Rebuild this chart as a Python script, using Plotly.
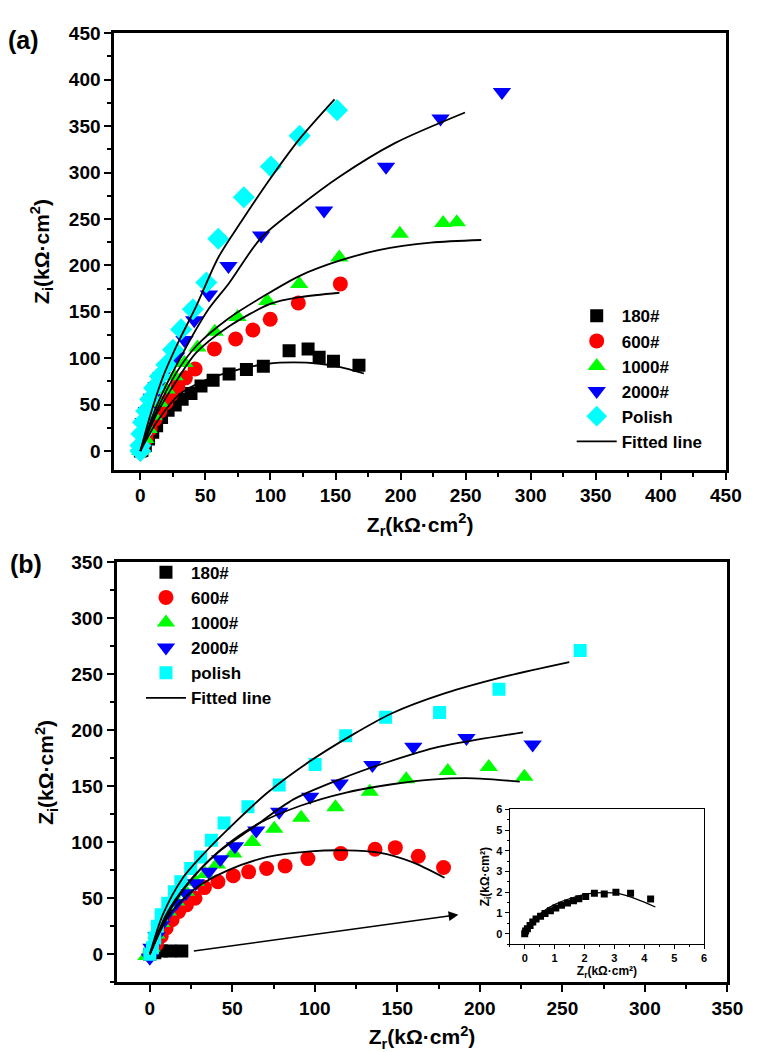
import plotly.graph_objects as go

# ---------------- Panel (a) data ----------------
a180_x = [0, 1.2, 3.8, 6.3, 9.5, 12.5, 16.3, 21.3, 26.8, 32.1, 38.9, 46.6, 55.9, 68.2, 81.5, 94.5, 114.3, 128.9, 137.4, 148.4, 168.0]
a180_y = [0, 0.7, 6, 13, 20.2, 27.3, 36.2, 44, 49.7, 55.8, 62, 70, 76.3, 83, 87.7, 91.3, 108, 110, 100.9, 96.6, 92.3]
a600_x = [0, 2, 4.5, 7.5, 11.3, 15, 19.6, 23.8, 28.8, 34.6, 42.1, 56.9, 73.2, 86.5, 99.8, 121.4, 153.7]
a600_y = [0, 6, 13, 23.8, 34.4, 43, 52, 61, 70, 78.8, 88.4, 110, 120.7, 130.3, 142, 159.4, 180]
a1000_x = [0, 1.3, 3.8, 6.3, 10, 15, 20, 26.3, 33.9, 43.9, 57.2, 74.7, 97.5, 122.1, 152.9, 199.4, 232.7, 243.2]
a1000_y = [0, 2.5, 13, 23.8, 38, 52, 66.4, 80.6, 94.8, 111.5, 128.5, 144.5, 161.6, 180, 208.4, 234, 245.7, 246.4]
a2000_x = [0, 1.2, 2.5, 5, 8.8, 12.5, 16.3, 21.3, 27.6, 33.9, 41.4, 52.7, 67.7, 92.8, 141.2, 188.8, 230.7, 277.9]
a2000_y = [-3, 16.7, 31, 43, 57.5, 70, 80.6, 91.3, 101.9, 119.7, 141, 168.7, 199.2, 232.2, 259.2, 306.1, 358.3, 386.7]
aPol_x = [0, 0, 0.8, 2, 4.5, 7.5, 10.5, 15, 20, 25.1, 31.3, 40.4, 50.7, 59.9, 79.5, 100.3, 122.4, 151.2]
aPol_y = [0, 6, 18.5, 31, 43, 55.8, 68, 80.6, 93, 109, 131, 152.7, 181.5, 228.7, 273.4, 306.5, 339.5, 367.2]

fa180_x = [0, 12.5, 30, 50.2, 75.2, 97.8, 117.9, 137.9, 153, 171.8]
fa180_y = [0, 30.9, 61, 76.3, 87.7, 94, 95.5, 94, 90.6, 83.5]
fa600_x = [0, 12.5, 27.6, 42.6, 67.7, 100.3, 122.9, 153]
fa600_y = [0, 39.8, 75.3, 105.5, 133.9, 158.7, 165.8, 170.5]
fa1000_x = [0, 12.5, 27.6, 42.6, 67.7, 97.8, 122.9, 153, 183, 223.2, 262]
fa1000_y = [0, 43.3, 84.2, 112.6, 142.8, 169.4, 189, 205, 216.3, 224.4, 227.3]
fa2000_x = [0, 12.5, 30, 52.7, 67.7, 92.8, 120.4, 153, 195.6, 249.5]
fa2000_y = [0, 48.6, 98.4, 153.4, 180, 229.7, 261.7, 295.5, 331.7, 364.7]
faPol_x = [0, 7.5, 17.6, 30, 42.6, 59.9, 77.7, 100.3, 122.4, 149.2]
faPol_y = [0, 38, 80.6, 119.7, 155, 208.5, 247.5, 294.4, 336.3, 378.9]

# ---------------- Panel (b) data ----------------
b180_x = [0, 3, 7, 12.3, 19.4]
b180_y = [0, 1.5, 2.9, 2.9, 2.9]
b600_x = [0, 1, 4, 6.9, 9.9, 13.5, 17.5, 22.2, 27.4, 33.1, 41.3, 50.6, 59.9, 70.8, 82, 95.8, 115.7, 136.5, 148.8, 162.7, 178]
b600_y = [0, 2.9, 8.8, 16.2, 23.6, 31, 38.3, 44.2, 50.1, 59.6, 64.9, 70.2, 73.7, 76.7, 79, 85.5, 90, 93.8, 95.3, 87.6, 77.6]
b1000_x = [-2, 1, 4, 6.9, 10.9, 15.9, 21.8, 27.8, 33.7, 40.7, 50.6, 62.1, 75.4, 91.7, 112.5, 133.3, 155.4, 180.6, 205.4, 227]
b1000_y = [-1.5, 5.9, 17.7, 28, 38.3, 47.2, 56, 64.9, 71.7, 80.2, 90, 100.3, 112.1, 122.1, 131.3, 145.1, 156.3, 163.7, 167.3, 158.7]
b2000_x = [0, 1, 4, 6.9, 10.9, 15.9, 21.8, 27.8, 35.7, 42.7, 51.6, 64.5, 78.4, 97.2, 115.1, 134.9, 159.7, 191.9, 232]
b2000_y = [-3, 5.9, 16.2, 26.5, 36.9, 45.7, 54.6, 63.4, 73.7, 85, 96.5, 110.6, 127.4, 140.7, 152.5, 169, 185.3, 193.2, 187.3]
bPol_x = [0, 1.6, 3, 4.6, 6.9, 10.9, 14.9, 18.8, 24.8, 30.8, 37.3, 45, 59.5, 78.4, 100.2, 118.7, 142.9, 175.6, 211.6, 260.8]
bPol_y = [0, 5.9, 14.7, 25, 35.4, 45.7, 56, 64.9, 76.7, 87, 101.8, 117.4, 131.9, 151.3, 169.6, 195.3, 211.8, 216, 236.8, 271.3]

fb600_x = [0, 11.9, 27.8, 47.6, 71.4, 97.2, 119, 138.9, 158.7, 178.6]
fb600_y = [0, 35.4, 59, 75.2, 87, 92, 92.9, 90.9, 82.6, 68.4]
fb1000_x = [0, 11.9, 25.8, 43.7, 65.5, 91.3, 119, 146.8, 172.6, 196.4, 224.2]
fb1000_y = [0, 38.3, 67.8, 94.4, 116.5, 132.7, 144.5, 151.9, 156.3, 157.2, 154.3]
fb2000_x = [0, 9.9, 23.8, 41.7, 61.5, 87.3, 115.1, 142.9, 172.6, 198.4, 226.2]
fb2000_y = [0, 35.4, 64.9, 91.4, 112.1, 138.6, 156.3, 171.1, 184.4, 191.7, 198.2]
fbPol_x = [0, 7.9, 19.8, 33.7, 47.6, 71.4, 97.2, 123, 146.8, 178.6, 214.3, 254.2]
fbPol_y = [0, 35.4, 67.8, 91.4, 112.1, 144.5, 172.6, 196.2, 215.3, 233, 247.8, 261]

# ---------------- Inset data (180#) ----------------
in_x = [0, 0.03, 0.09, 0.18, 0.27, 0.38, 0.53, 0.68, 0.86, 1.04, 1.23, 1.43, 1.63, 1.81, 2.04, 2.33, 2.66, 3.05, 3.54, 4.21]
in_y = [0, 0.13, 0.24, 0.4, 0.56, 0.71, 0.84, 0.97, 1.11, 1.24, 1.37, 1.48, 1.59, 1.68, 1.79, 1.95, 1.92, 2.0, 1.95, 1.67]
fin_x = [0, 0.22, 0.55, 0.99, 1.54, 2.09, 2.64, 3.19, 3.74, 4.37]
fin_y = [0, 0.52, 1.0, 1.4, 1.71, 1.92, 1.98, 1.92, 1.67, 1.29]

FONT = "Liberation Sans"
BLACK, RED, GREEN, BLUE, CYAN = "#000000", "#ff0000", "#00ff00", "#0000ff", "#00ffff"

fig = go.Figure()

def pts(x, y, name, color, symbol, size, xa, ya, leg, show=True):
    fig.add_trace(go.Scatter(x=x, y=y, mode="markers", name=name, xaxis=xa, yaxis=ya,
                             legend=leg, showlegend=show,
                             marker=dict(color=color, symbol=symbol, size=size, line=dict(width=0))))

def fit(x, y, xa, ya, leg, show, width=1.8):
    fig.add_trace(go.Scatter(x=x, y=y, mode="lines", name="Fitted line", xaxis=xa, yaxis=ya,
                             legend=leg, showlegend=show,
                             line=dict(color=BLACK, width=width, shape="spline", smoothing=0.8)))

# Panel (a)
pts(a180_x, a180_y, "180#", BLACK, "square", 13, "x", "y", "legend")
pts(a600_x, a600_y, "600#", RED, "circle", 15, "x", "y", "legend")
pts(a1000_x, a1000_y, "1000#", GREEN, "triangle-up", 16, "x", "y", "legend")
pts(a2000_x, a2000_y, "2000#", BLUE, "triangle-down", 16, "x", "y", "legend")
pts(aPol_x, aPol_y, "Polish", CYAN, "diamond", 17, "x", "y", "legend")
fit(fa180_x, fa180_y, "x", "y", "legend", True)
fit(fa600_x, fa600_y, "x", "y", "legend", False)
fit(fa1000_x, fa1000_y, "x", "y", "legend", False)
fit(fa2000_x, fa2000_y, "x", "y", "legend", False)
fit(faPol_x, faPol_y, "x", "y", "legend", False)

# Panel (b)
pts(b180_x, b180_y, "180#", BLACK, "square", 13, "x2", "y2", "legend2")
pts(b600_x, b600_y, "600#", RED, "circle", 15, "x2", "y2", "legend2")
pts(b1000_x, b1000_y, "1000#", GREEN, "triangle-up", 16, "x2", "y2", "legend2")
pts(b2000_x, b2000_y, "2000#", BLUE, "triangle-down", 16, "x2", "y2", "legend2")
pts(bPol_x, bPol_y, "polish", CYAN, "square", 13, "x2", "y2", "legend2")
fit(fb600_x, fb600_y, "x2", "y2", "legend2", True)
fit(fb1000_x, fb1000_y, "x2", "y2", "legend2", False)
fit(fb2000_x, fb2000_y, "x2", "y2", "legend2", False)
fit(fbPol_x, fbPol_y, "x2", "y2", "legend2", False)

# Inset
pts(in_x, in_y, "180# inset", BLACK, "square", 7, "x3", "y3", "legend", show=False)
fit(fin_x, fin_y, "x3", "y3", "legend", False, width=1.2)


def axis(domain, rng, dtick, minor, title, anchor, tsize=19, ttl=21, lw=3, tlen=7, mlen=4, standoff=None):
    d = dict(domain=domain, range=rng, dtick=dtick, tick0=0, anchor=anchor,
             showgrid=False, zeroline=False, showline=True, linecolor="black", linewidth=lw,
             mirror=True, ticks="outside", ticklen=tlen, tickwidth=max(1, lw * 0.8), tickcolor="black",
             tickfont=dict(family=FONT, size=tsize, color="black", weight="bold"),
             minor=dict(dtick=minor, tick0=0, ticks="outside", ticklen=mlen, tickwidth=max(1, lw * 0.8),
                        tickcolor="black", showgrid=False),
             title=dict(text=title, font=dict(family=FONT, size=ttl, color="black", weight="bold")))
    if standoff is not None:
        d["title"]["standoff"] = standoff
    return d

W, H = 760, 1052
xa_dom = [116.8 / W, 741.5 / W]
ya_dom = [1 - 464 / H, 1 - 23.5 / H]
xb_dom = [119.3 / W, 743 / W]
yb_dom = [1 - 981.7 / H, 1 - 557.7 / H]
xi_dom = [520.7 / W, 719.3 / W]
yi_dom = [1 - 943 / H, 1 - 807 / H]

ZR = "Z<sub>r</sub>(kΩ·cm<sup>2</sup>)"
ZI = "Z<sub>i</sub>(kΩ·cm<sup>2</sup>)"

fig.update_layout(
    width=W, height=H, margin=dict(l=0, r=0, t=0, b=0),
    paper_bgcolor="white", plot_bgcolor="white",
    font=dict(family=FONT, color="black", weight="bold"),
    xaxis=axis(xa_dom, [-20, 450], 50, 25, ZR, "y", standoff=12),
    yaxis=axis(ya_dom, [-20, 450], 50, 25, ZI, "x", standoff=14),
    xaxis2=axis(xb_dom, [-20, 350], 50, 25, ZR, "y2", standoff=12),
    yaxis2=axis(yb_dom, [-25, 350], 50, 25, ZI, "x2", standoff=12),
    xaxis3=axis(xi_dom, [-0.5, 6], 1, 0.5, "Z<sub>r</sub>(kΩ·cm²)", "y3", tsize=11, ttl=12, lw=1.3, tlen=4, mlen=2, standoff=2),
    yaxis3=axis(yi_dom, [-0.5, 6], 1, 0.5, "Z<sub>i</sub>(kΩ·cm²)", "x3", tsize=11, ttl=12, lw=1.3, tlen=4, mlen=2, standoff=4),
    legend=dict(x=584 / W, y=1 - 291 / H, xanchor="left", yanchor="top", bgcolor="rgba(0,0,0,0)",
                font=dict(family=FONT, size=17, color="black", weight="bold"), itemwidth=40),
    legend2=dict(x=144 / W, y=1 - 550 / H, xanchor="left", yanchor="top", bgcolor="rgba(0,0,0,0)",
                 font=dict(family=FONT, size=17, color="black", weight="bold"), itemwidth=40),
    annotations=[
        dict(text="(a)", x=6 / W, y=1 - 30 / H, xref="paper", yref="paper", xanchor="left", yanchor="middle",
             showarrow=False, font=dict(family=FONT, size=25, color="black", weight="bold")),
        dict(text="(b)", x=8 / W, y=1 - 559 / H, xref="paper", yref="paper", xanchor="left", yanchor="middle",
             showarrow=False, font=dict(family=FONT, size=25, color="black", weight="bold")),
        dict(x=187, y=35.4, ax=25.8, ay=2.9, xref="x2", yref="y2", axref="x2", ayref="y2",
             showarrow=True, arrowhead=2, arrowsize=1.3, arrowwidth=1.5, arrowcolor="black", text=""),
    ],
)

fig.write_html("out.html")
